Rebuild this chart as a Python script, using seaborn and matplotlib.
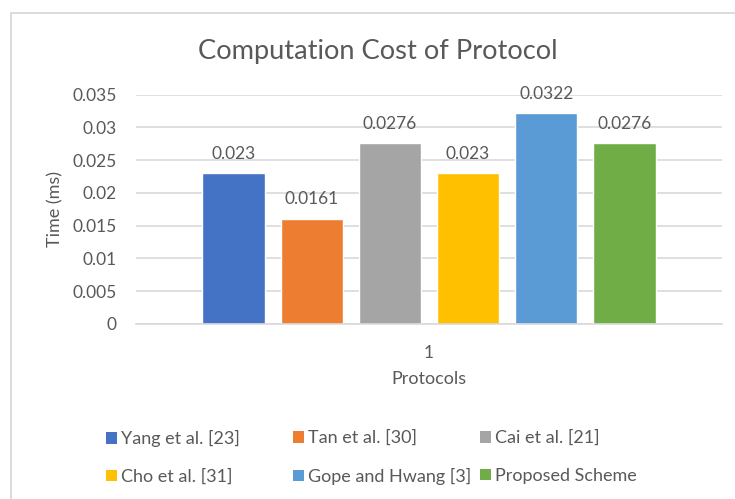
import matplotlib
matplotlib.use("Agg")
import matplotlib.pyplot as plt
from matplotlib.patches import Rectangle
import pandas as pd
import seaborn as sns

# Computation time (ms) per protocol
protocols = ["Yang et al. [23]", "Tan et al. [30]", "Cai et al. [21]",
             "Cho et al. [31]", "Gope and Hwang [3]", "Proposed Scheme"]
times = [0.023, 0.0161, 0.0276, 0.023, 0.0322, 0.0276]
value_labels = ["0.023", "0.0161", "0.0276", "0.023", "0.0322", "0.0276"]
group = ["1"] * len(protocols)
yticks = [0, 0.005, 0.01, 0.015, 0.02, 0.025, 0.03, 0.035]
ytick_labels = ["0", "0.005", "0.01", "0.015", "0.02", "0.025", "0.03", "0.035"]
colors = ["#4472C4", "#ED7D31", "#A5A5A5", "#FFC000", "#5B9BD5", "#70AD47"]

df = pd.DataFrame({"group": group, "protocol": protocols, "time": times})

sns.set_theme(style="white")
plt.rcParams["font.family"] = ["Lato", "DejaVu Sans"]
text_color = "#595959"
grid_color = "#D9D9D9"

W, H = 735, 499
fig = plt.figure(figsize=(W / 100, H / 100), dpi=100)
fig.patch.set_facecolor("white")

# chart-area border (runs off the right and bottom edges)
fig.add_artist(Rectangle((11 / W, -0.05), 1.1, 1.05 - 13 / H, transform=fig.transFigure,
                         fill=False, edgecolor=grid_color, linewidth=1.3))

ax = fig.add_axes([136 / W, 1 - 324 / H, (722 - 136) / W, (324 - 94.7) / H])
sns.barplot(data=df, x="group", y="time", hue="protocol", palette=colors,
            width=0.8, gap=0.2, saturation=1, legend=False, ax=ax)

ax.set_ylim(0, 0.035)
ax.set_yticks(yticks)
ax.set_yticklabels(ytick_labels)
ax.yaxis.grid(True, color=grid_color, linewidth=1.2)
ax.set_axisbelow(True)
for s in ["top", "right", "left"]:
    ax.spines[s].set_visible(False)
ax.spines["bottom"].set_color(grid_color)
ax.spines["bottom"].set_linewidth(1.2)
ax.tick_params(axis="both", length=0, labelsize=12.5, colors=text_color)
ax.tick_params(axis="y", pad=14)
ax.tick_params(axis="x", pad=15)

ax.set_ylabel("Time (ms)", fontsize=13, color=text_color, labelpad=6)
ax.set_xlabel("Protocols", fontsize=13, color=text_color, labelpad=7)

for cont, lab in zip(ax.containers, value_labels):
    ax.bar_label(cont, labels=[lab], padding=8, fontsize=12.5, color=text_color)

fig.text(378 / W, 1 - 51 / H, "Computation Cost of Protocol", ha="center", va="center",
         fontsize=19.6, color=text_color)

# legend: three equal-width columns, two rows
col_x = [106, 293, 480]
for c in range(3):
    hs = [Rectangle((0, 0), 1, 1, facecolor=colors[c], edgecolor="none"),
          Rectangle((0, 0), 1, 1, facecolor=colors[c + 3], edgecolor="none")]
    ls = [protocols[c], protocols[c + 3]]
    fig.legend(hs, ls, loc="upper left", bbox_to_anchor=(col_x[c] / W, 1 - 430 / H),
               frameon=False, fontsize=13, handlelength=0.62, handleheight=0.62,
               handletextpad=0.22, labelspacing=1.2, borderpad=0, borderaxespad=0,
               labelcolor=text_color)

fig.savefig("out.png", dpi=100, facecolor="white")
